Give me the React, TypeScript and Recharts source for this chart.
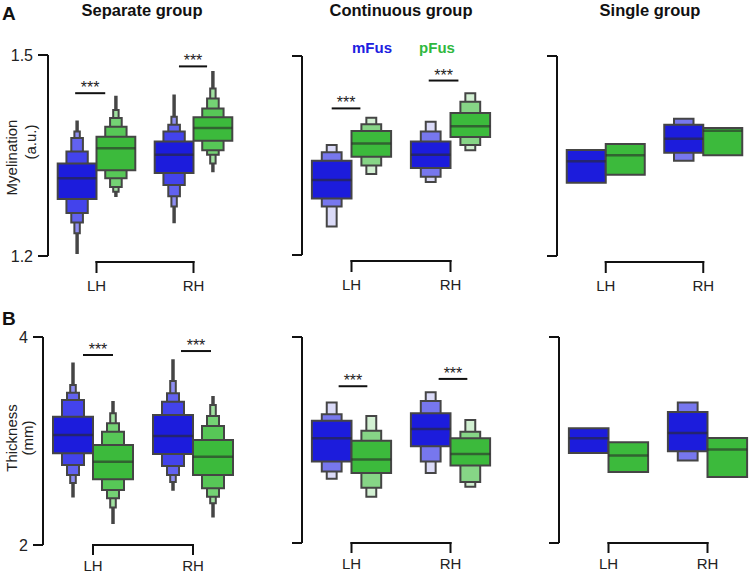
import React from "react";
import {
  ComposedChart,
  XAxis,
  YAxis,
  ReferenceArea,
  ReferenceLine,
} from "recharts";

const HEMIS = ["LH", "RH"];
const REGIONS = ["mFus", "pFus"];

// box order in every panel: LH-mFus, LH-pFus, RH-mFus, RH-pFus
// letter values [low, high], innermost box first (separate group: last entry is the tail)

// A: myelination
const myeSepMedians = [1.316, 1.361, 1.351, 1.391];
const myeSepLevels = [
  [[1.285, 1.338], [1.264, 1.356], [1.25, 1.376], [1.234, 1.386], [1.204, 1.401]],
  [[1.328, 1.378], [1.316, 1.393], [1.303, 1.406], [1.296, 1.418], [1.289, 1.438]],
  [[1.324, 1.371], [1.306, 1.386], [1.289, 1.396], [1.274, 1.408], [1.25, 1.44]],
  [[1.372, 1.407], [1.358, 1.42], [1.351, 1.435], [1.338, 1.45], [1.326, 1.475]],
];
const myeSepSig = [[-0.22, 0.09, 1.443], [0.85, 1.14, 1.483]];

const myeContMedians = [1.313, 1.368, 1.351, 1.394];
const myeContLevels = [
  [[1.285, 1.342], [1.273, 1.355], [1.243, 1.366]],
  [[1.348, 1.387], [1.335, 1.397], [1.322, 1.407]],
  [[1.331, 1.371], [1.318, 1.386], [1.31, 1.401]],
  [[1.378, 1.414], [1.366, 1.431], [1.358, 1.444]],
];
const myeContSig = [[-0.2, 0.09, 1.421], [0.78, 1.08, 1.463]];

const myeSingleMedians = [1.342, 1.351, 1.376, 1.388];
const myeSingleLevels = [
  [[1.31, 1.359]],
  [[1.322, 1.368]],
  [[1.355, 1.397], [1.343, 1.406]],
  [[1.351, 1.392]],
];

// B: thickness
const thkSepMedians = [3.058, 2.801, 3.048, 2.849];
const thkSepLevels = [
  [[2.882, 3.234], [2.769, 3.394], [2.673, 3.464], [2.596, 3.539], [2.464, 3.747]],
  [[2.632, 2.962], [2.529, 3.089], [2.449, 3.17], [2.361, 3.266], [2.209, 3.378]],
  [[2.875, 3.25], [2.76, 3.378], [2.673, 3.459], [2.606, 3.577], [2.529, 3.779]],
  [[2.673, 3.01], [2.545, 3.144], [2.464, 3.24], [2.401, 3.346], [2.272, 3.426]],
];
const thkSepSig = [[-0.1, 0.2, 3.827], [0.88, 1.18, 3.865]];

const thkContMedians = [3.016, 2.811, 3.106, 2.865];
const thkContLevels = [
  [[2.791, 3.186], [2.695, 3.25], [2.625, 3.363]],
  [[2.68, 2.993], [2.536, 3.089], [2.449, 3.234]],
  [[2.939, 3.26], [2.791, 3.378], [2.68, 3.464]],
  [[2.753, 3.016], [2.593, 3.08], [2.545, 3.195]],
];
const thkContSig = [[-0.13, 0.16, 3.522], [0.88, 1.17, 3.593]];

const thkSingleMedians = [3.016, 2.849, 3.067, 2.907];
const thkSingleLevels = [
  [[2.875, 3.113]],
  [[2.689, 2.978]],
  [[2.891, 3.272], [2.801, 3.363]],
  [[2.641, 3.019]],
];

const FONT = "'Liberation Sans', Arial, sans-serif";
const OUTLINE = "#454545";
const AXIS = "#111";
const BLUES_SEP = ["#1c1cdc", "#4343ec", "#6262ef", "#8e8ef3"];
const GREENS_SEP = ["#3cba3c", "#57c757", "#74d374", "#a0e1a0"];
const BLUES_FEW = ["#1c1cdc", "#7777ee", "#dadaf8"];
const GREENS_FEW = ["#3cba3c", "#86d586", "#d2f0d2"];
const WIDTH_SEP = [1, 0.55, 0.3, 0.14];
const WIDTH_FEW = [1, 0.5, 0.25];
const BOX_W = 0.4;
const TAIL_W = 0.05;
const X_DOMAIN = [-0.5, 1.5];

const YW = 45;
const MT = 20;
const MR = 10;

type PanelDef = {
  left: number;
  top: number;
  plotW: number;
  plotH: number;
  xh: number;
  yDomain: number[];
  tickLabels: boolean;
  medians: number[];
  levels: number[][][];
  sig: number[][];
  widths: number[];
  blues: string[];
  greens: string[];
  tail: boolean;
  brGap: number;
  brTick: number;
  labelGap: number;
};

function Panel({ p }: { p: PanelDef }) {
  const [y0, y1] = p.yDomain;
  const perPx = (y1 - y0) / p.plotH;
  const yBr = y0 - p.brGap * perPx;
  const yBrEnd = y0 - (p.brGap + p.brTick) * perPx;
  const xPerPx = (X_DOMAIN[1] - X_DOMAIN[0]) / p.plotW;
  const yTickStart = X_DOMAIN[0] - 10 * xPerPx;

  const areas: React.ReactNode[] = [];
  const medians: React.ReactNode[] = [];
  p.levels.forEach((lv, i) => {
    const hemi = Math.floor(i / 2);
    const region = i % 2;
    const cx = hemi + (region === 0 ? -BOX_W / 2 : BOX_W / 2);
    const pal = region === 0 ? p.blues : p.greens;
    for (let k = lv.length - 1; k >= 0; k--) {
      const isTail = p.tail && k === lv.length - 1;
      const half = (BOX_W * (isTail ? TAIL_W : p.widths[k])) / 2;
      areas.push(
        <ReferenceArea
          key={`a${i}-${k}`}
          x1={cx - half}
          x2={cx + half}
          y1={lv[k][0]}
          y2={lv[k][1]}
          fill={isTail ? OUTLINE : pal[k]}
          fillOpacity={1}
          stroke={OUTLINE}
          strokeWidth={isTail ? 1.5 : 2}
        />
      );
    }
    medians.push(
      <ReferenceLine
        key={`m${i}`}
        segment={[
          { x: cx - BOX_W / 2, y: p.medians[i] },
          { x: cx + BOX_W / 2, y: p.medians[i] },
        ]}
        stroke="#2a2a2a"
        strokeOpacity={0.6}
        strokeWidth={2.5}
      />
    );
  });

  return (
    <div style={{ position: "absolute", left: p.left - YW, top: p.top - MT }}>
      <ComposedChart
        width={YW + p.plotW + MR}
        height={MT + p.plotH + p.xh}
        margin={{ top: MT, right: MR, left: 0, bottom: 0 }}
        data={HEMIS.map((h, i) => ({ x: i, name: h }))}
      >
        <XAxis
          type="number"
          dataKey="x"
          domain={X_DOMAIN}
          ticks={[0, 1]}
          allowDataOverflow
          interval={0}
          height={p.xh}
          tickFormatter={(v: number) => HEMIS[v] ?? ""}
          axisLine={false}
          tickLine={false}
          tickSize={0}
          tickMargin={p.labelGap}
          tick={{ fontSize: 15, fill: "#222", fontFamily: FONT }}
        />
        <YAxis
          type="number"
          domain={p.yDomain}
          ticks={p.yDomain}
          allowDataOverflow
          interval={0}
          width={YW}
          tickSize={10}
          tickMargin={5}
          axisLine={{ stroke: AXIS, strokeWidth: 2 }}
          tickLine={false}
          tick={p.tickLabels ? { fontSize: 16, fill: "#222", fontFamily: FONT } : false}
        />
        {areas}
        {medians}
        {p.sig.map((s, i) => (
          <ReferenceLine
            key={`s${i}`}
            segment={[
              { x: s[0], y: s[2] },
              { x: s[1], y: s[2] },
            ]}
            stroke={AXIS}
            strokeWidth={2}
            label={{
              value: "***",
              position: "top",
              offset: 0,
              fontSize: 16,
              fill: "#222",
              fontFamily: FONT,
            }}
          />
        ))}
        {p.yDomain.map((y) => (
          <ReferenceLine
            key={`y${y}`}
            segment={[
              { x: yTickStart, y },
              { x: X_DOMAIN[0], y },
            ]}
            ifOverflow="visible"
            stroke={AXIS}
            strokeWidth={2}
          />
        ))}
        <ReferenceLine
          segment={[
            { x: 0, y: yBr },
            { x: 1, y: yBr },
          ]}
          ifOverflow="visible"
          stroke={AXIS}
          strokeWidth={2}
          strokeLinecap="square"
        />
        {[0, 1].map((x) => (
          <ReferenceLine
            key={`t${x}`}
            segment={[
              { x, y: yBr },
              { x, y: yBrEnd },
            ]}
            ifOverflow="visible"
            stroke={AXIS}
            strokeWidth={2}
            strokeLinecap="square"
          />
        ))}
      </ComposedChart>
    </div>
  );
}

const top = { xh: 40, yDomain: [1.2, 1.5], brGap: 6, brTick: 10, labelGap: 24 };
const bottom = { xh: 30, yDomain: [2, 4], brGap: 0, brTick: 9, labelGap: 15 };
const sep = { widths: WIDTH_SEP, blues: BLUES_SEP, greens: GREENS_SEP, tail: true };
const few = { widths: WIDTH_FEW, blues: BLUES_FEW, greens: GREENS_FEW, tail: false };

const PANELS: PanelDef[] = [
  { ...top, ...sep, left: 48, top: 55, plotW: 194, plotH: 201, tickLabels: true, medians: myeSepMedians, levels: myeSepLevels, sig: myeSepSig },
  { ...top, ...few, left: 302, top: 56, plotW: 198, plotH: 199, tickLabels: false, medians: myeContMedians, levels: myeContLevels, sig: myeContSig },
  { ...top, ...few, left: 557, top: 56, plotW: 195, plotH: 200, tickLabels: false, medians: myeSingleMedians, levels: myeSingleLevels, sig: [] },
  { ...bottom, ...sep, left: 43, top: 337, plotW: 200, plotH: 208, tickLabels: true, medians: thkSepMedians, levels: thkSepLevels, sig: thkSepSig },
  { ...bottom, ...few, left: 302, top: 337, plotW: 198, plotH: 206, tickLabels: false, medians: thkContMedians, levels: thkContLevels, sig: thkContSig },
  { ...bottom, ...few, left: 559, top: 337, plotW: 198, plotH: 206, tickLabels: false, medians: thkSingleMedians, levels: thkSingleLevels, sig: [] },
];

export default function App() {
  return (
    <div
      style={{
        position: "absolute",
        left: 0,
        top: 0,
        width: 750,
        height: 573,
        overflow: "hidden",
        background: "#fff",
        fontFamily: FONT,
      }}
    >
      {PANELS.map((p, i) => (
        <Panel key={i} p={p} />
      ))}
      <svg
        width={750}
        height={573}
        style={{ position: "absolute", left: 0, top: 0, pointerEvents: "none" }}
        fontFamily={FONT}
      >
        <text x={2} y={20} fontSize={19} fontWeight="bold" fill="#111">A</text>
        <text x={2} y={325} fontSize={19} fontWeight="bold" fill="#111">B</text>
        <text x={142} y={16} fontSize={16.5} fontWeight="bold" fill="#111" textAnchor="middle">Separate group</text>
        <text x={401} y={16} fontSize={16.5} fontWeight="bold" fill="#111" textAnchor="middle">Continuous group</text>
        <text x={650} y={16} fontSize={16.5} fontWeight="bold" fill="#111" textAnchor="middle">Single group</text>
        <text x={372} y={53} fontSize={15} fontWeight="bold" fill="#2020e0" textAnchor="middle">{REGIONS[0]}</text>
        <text x={437} y={52.5} fontSize={15} fontWeight="bold" fill="#30b840" textAnchor="middle">{REGIONS[1]}</text>
        <text x={17} y={157.5} fontSize={15} fill="#222" textAnchor="middle" transform="rotate(-90 17 157.5)">Myelination</text>
        <text x={35.5} y={142} fontSize={15} fill="#222" textAnchor="middle" transform="rotate(-90 35.5 142)">(a.u.)</text>
        <text x={17} y={438} fontSize={15} fill="#222" textAnchor="middle" transform="rotate(-90 17 438)">Thickness</text>
        <text x={32.5} y={438} fontSize={15} fill="#222" textAnchor="middle" transform="rotate(-90 32.5 438)">(mm)</text>
      </svg>
    </div>
  );
}
